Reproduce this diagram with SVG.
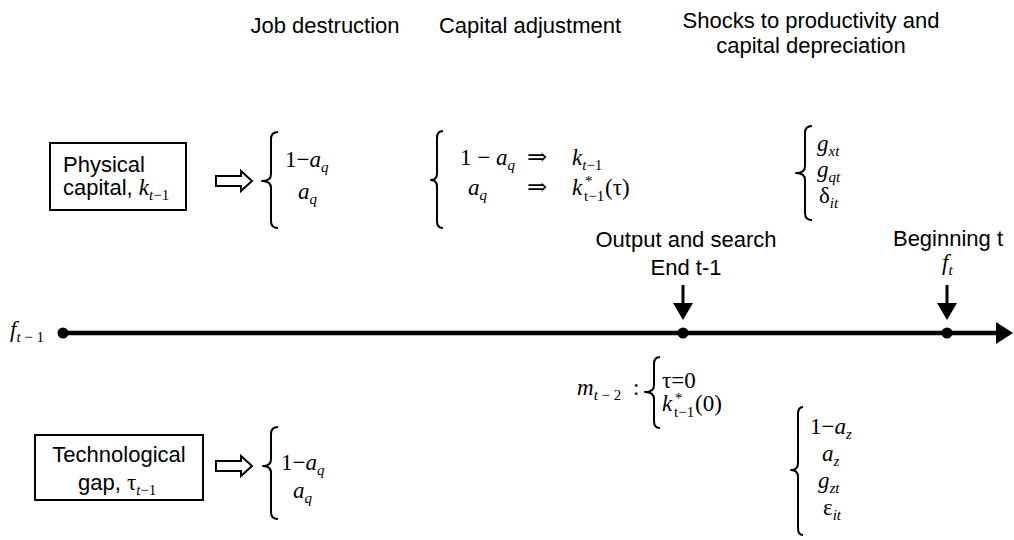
<svg xmlns="http://www.w3.org/2000/svg" width="1014" height="540" viewBox="0 0 1014 540">
  <style>
    .lbl { font-family: "Liberation Sans", Arial, sans-serif; font-size: 22px; fill: #000; }
    .m { font-family: "Liberation Serif", "Times New Roman", serif; font-size: 23px; fill: #000; }
    .it { font-style: italic; }
    .sub { font-size: 15px; }
    .arr { font-family: "DejaVu Serif", "Liberation Serif", serif; font-size: 24px; }
    .brace { fill: none; stroke: #000; stroke-width: 2; stroke-linejoin: round; }
    .box { fill: #fff; stroke: #000; stroke-width: 2; }
    .hollow { fill: #fff; stroke: #000; stroke-width: 2; stroke-linejoin: miter; }
    .axis { stroke: #000; stroke-width: 4.5; fill: none; }
    .tick { stroke: #000; stroke-width: 3; fill: none; }
  </style>

  <rect width="1014" height="540" fill="#fff"/>

  <!-- column headings -->
  <g id="headings">
    <text class="lbl" x="325" y="33" text-anchor="middle">Job destruction</text>
    <text class="lbl" x="530" y="33" text-anchor="middle">Capital adjustment</text>
    <text class="lbl" x="811" y="28" text-anchor="middle">Shocks to productivity and</text>
    <text class="lbl" x="811" y="53" text-anchor="middle">capital depreciation</text>
  </g>

  <!-- state variable: physical capital -->
  <g id="physical-capital">
    <rect class="box" x="50" y="143" width="136" height="67"/>
    <text class="lbl" x="63" y="172">Physical</text>
    <text class="lbl" x="63" y="195">capital, <tspan class="m it">k</tspan><tspan class="m sub it" dy="5">t</tspan><tspan class="m sub" >−1</tspan></text>
  </g>

  <!-- state variable: technological gap -->
  <g id="technological-gap">
    <rect class="box" x="35" y="435" width="168" height="65"/>
    <text class="lbl" x="119" y="462" text-anchor="middle">Technological</text>
    <text class="lbl" x="78" y="490">gap, <tspan class="m">τ</tspan><tspan class="m sub it" dy="5">t</tspan><tspan class="m sub">−1</tspan></text>
  </g>

  <!-- job destruction (upper) -->
  <g id="job-destruction-k">
    <path class="brace" d="M278 132 Q271 132 271 139 L271 174 Q271 181 262 181 Q271 181 271 188 L271 221 Q271 228 278 228"/>
    <text class="m" x="285" y="167">1−<tspan class="it">a</tspan><tspan class="sub it" dy="5">q</tspan></text>
    <text class="m" x="298" y="199"><tspan class="it">a</tspan><tspan class="sub it" dy="5">q</tspan></text>
  </g>

  <!-- job destruction (lower) -->
  <g id="job-destruction-tau">
    <path class="brace" d="M278 427 Q271 427 271 434 L271 459 Q271 466 263 466 Q271 466 271 473 L271 512 Q271 519 278 519"/>
    <text class="m" x="281" y="470">1−<tspan class="it">a</tspan><tspan class="sub it" dy="5">q</tspan></text>
    <text class="m" x="293" y="498"><tspan class="it">a</tspan><tspan class="sub it" dy="5">q</tspan></text>
  </g>

  <!-- capital adjustment -->
  <g id="capital-adjustment">
    <path class="brace" d="M443 131 Q437 131 437 138 L437 173 Q437 180 431 180 Q437 180 437 187 L437 221 Q437 228 443 228"/>
    <text class="m" x="460" y="165">1 − <tspan class="it">a</tspan><tspan class="sub it" dy="5">q</tspan></text>
    <text class="arr" x="527" y="165">⇒</text>
    <text class="m" x="572" y="165"><tspan class="it">k</tspan><tspan class="sub it" dy="5">t</tspan><tspan class="sub">−1</tspan></text>
    <text class="m" x="468" y="195"><tspan class="it">a</tspan><tspan class="sub it" dy="5">q</tspan></text>
    <text class="arr" x="527" y="195">⇒</text>
    <text class="m" x="572" y="195"><tspan class="it">k</tspan></text>
    <text class="m sub" x="585" y="186">*</text>
    <text class="m sub" x="584" y="201">t−1</text>
    <text class="m" x="605" y="195">(τ)</text>
  </g>

  <!-- productivity and depreciation shocks -->
  <g id="shocks-upper">
    <path class="brace" d="M812 126 Q805 126 805 133 L805 166 Q805 173 796 173 Q805 173 805 180 L805 213 Q805 220 812 220"/>
    <text class="m" x="817" y="151"><tspan class="it">g</tspan><tspan class="sub it" dy="5">xt</tspan></text>
    <text class="m" x="817" y="177"><tspan class="it">g</tspan><tspan class="sub it" dy="5">qt</tspan></text>
    <text class="m" x="819" y="203">δ<tspan class="sub it" dy="5">it</tspan></text>
  </g>

  <!-- timeline -->
  <g id="connectors">
    <line class="axis" x1="63" y1="333" x2="998" y2="333"/>
    <polygon points="996,322 1013,333 996,344" fill="#000"/>
    <circle cx="63" cy="333" r="5.5" fill="#000"/>
    <circle cx="683" cy="333" r="5.5" fill="#000"/>
    <circle cx="947" cy="333" r="5.5" fill="#000"/>
    <line class="tick" x1="683" y1="285" x2="683" y2="305"/>
    <polygon points="673,303 693,303 683,320" fill="#000"/>
    <line class="tick" x1="947" y1="285" x2="947" y2="305"/>
    <polygon points="937,303 957,303 947,320" fill="#000"/>
    <!-- hollow implication arrows from the state boxes -->
    <polygon class="hollow" points="216,176 241,176 241,171 252,181 241,191 241,186 216,186"/>
    <polygon class="hollow" points="216,461 241,461 241,456 252,466 241,476 241,471 216,471"/>
  </g>

  <g id="start">
    <text class="m" x="10" y="337"><tspan class="it">f</tspan><tspan class="sub it" dy="5">t</tspan><tspan class="sub"> − 1</tspan></text>
  </g>

  <g id="output-search">
    <text class="lbl" x="686" y="247" text-anchor="middle">Output and search</text>
    <text class="lbl" x="686" y="275" text-anchor="middle">End t-1</text>
  </g>

  <g id="beginning">
    <text class="lbl" x="948" y="246" text-anchor="middle">Beginning t</text>
    <text class="m" x="942" y="270"><tspan class="it">f</tspan><tspan class="sub it" dy="5">t</tspan></text>
  </g>

  <!-- matches carried over from t-2 -->
  <g id="matches">
    <text class="m" x="577" y="395"><tspan class="it">m</tspan><tspan class="sub it" dy="5">t</tspan><tspan class="sub"> − 2</tspan></text>
    <text class="m" x="633" y="395">:</text>
    <path class="brace" d="M660 357 Q654 357 654 364 L654 385 Q654 392 645 392 Q654 392 654 399 L654 421 Q654 428 660 428"/>
    <text class="m" x="662" y="388">τ=0</text>
    <text class="m" x="662" y="411"><tspan class="it">k</tspan></text>
    <text class="m sub" x="675" y="403">*</text>
    <text class="m sub" x="674" y="417">t−1</text>
    <text class="m" x="695" y="411">(0)</text>
  </g>

  <!-- adoption and idiosyncratic shocks -->
  <g id="shocks-lower">
    <path class="brace" d="M803 407 Q798 407 798 414 L798 463 Q798 470 791 470 Q798 470 798 477 L798 528 Q798 535 803 535"/>
    <text class="m" x="810" y="434">1−<tspan class="it">a</tspan><tspan class="sub it" dy="5">z</tspan></text>
    <text class="m" x="822" y="461"><tspan class="it">a</tspan><tspan class="sub it" dy="5">z</tspan></text>
    <text class="m" x="818" y="488"><tspan class="it">g</tspan><tspan class="sub it" dy="5">zt</tspan></text>
    <text class="m" x="823" y="515">ε<tspan class="sub it" dy="5">it</tspan></text>
  </g>
</svg>
